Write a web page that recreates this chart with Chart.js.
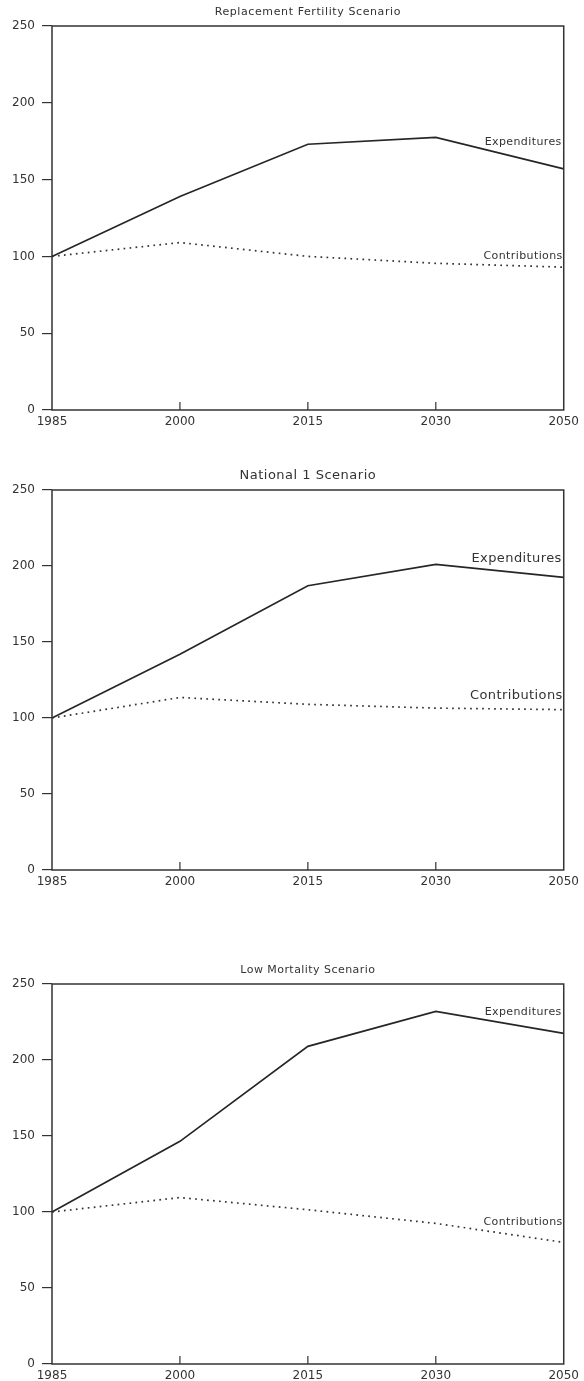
<!DOCTYPE html>
<html>
<head>
<meta charset="utf-8">
<script src="https://cdn.jsdelivr.net/npm/chart.js@4.4.0/dist/chart.umd.min.js"></script>
<style>
    body { margin: 0; background: #fff; }
    .panel { position: absolute; left: 0; width: 584px; }
    canvas { display: block; }
</style>
</head>
<body>
<div class="panel" style="top:0px"><canvas id="chart1" width="584" height="440"></canvas></div>
<div class="panel" style="top:460px"><canvas id="chart2" width="584" height="440"></canvas></div>
<div class="panel" style="top:950px"><canvas id="chart3" width="584" height="431"></canvas></div>
<script>
// values (index, 1985 = 100)
const years = ['1985', '2000', '2015', '2030', '2050'];
const yTicks = [0, 50, 100, 150, 200, 250];

const replacementExpenditures = [100, 139, 173, 177.5, 157];
const replacementContributions = [100, 109, 100, 95.5, 93];

const national1Expenditures = [100, 142, 187, 201, 192.5];
const national1Contributions = [100, 113.5, 109, 106.5, 105.5];

const lowMortalityExpenditures = [100, 146.5, 209, 232, 217.5];
const lowMortalityContributions = [100, 109.5, 101.5, 92.5, 80];

const ink = '#333';
const fontFamily = '"DejaVu Sans", sans-serif';

// draws the box, inward x ticks, title and series labels
const decorPlugin = {
    id: 'decor',
    afterDraw(chart, args, opts) {
        const ctx = chart.ctx;
        const area = chart.chartArea;
        const xScale = chart.scales.x;
        const yScale = chart.scales.y;

        ctx.save();
        ctx.strokeStyle = ink;
        ctx.lineWidth = 1.5;
        ctx.strokeRect(area.left, area.top, area.right - area.left, area.bottom - area.top);

        // small ticks pointing up from the bottom axis
        ctx.lineWidth = 1.2;
        for (let i = 1; i < years.length - 1; i++) {
            const x = xScale.getPixelForTick(i);
            ctx.beginPath();
            ctx.moveTo(x, area.bottom);
            ctx.lineTo(x, area.bottom - 8);
            ctx.stroke();
        }

        ctx.fillStyle = ink;
        ctx.textBaseline = 'middle';

        ctx.font = opts.titleSize + 'px ' + fontFamily;
        ctx.letterSpacing = opts.titleSpacing + 'px';
        ctx.textAlign = 'center';
        ctx.fillText(opts.title, (area.left + area.right) / 2, area.top - 14);

        ctx.font = opts.labelSize + 'px ' + fontFamily;
        ctx.letterSpacing = opts.labelSpacing + 'px';
        ctx.textAlign = 'right';
        ctx.fillText('Expenditures', area.right - 2, yScale.getPixelForValue(opts.expLabelAt));
        ctx.fillText('Contributions', area.right - 1, yScale.getPixelForValue(opts.conLabelAt));
        ctx.restore();
    }
};

function makePanel(canvasId, expenditures, contributions, panel) {
    return new Chart(document.getElementById(canvasId).getContext('2d'), {
        type: 'line',
        data: {
            labels: years,
            datasets: [{
                label: 'Expenditures',
                data: expenditures,
                borderColor: '#262626',
                borderWidth: 1.7,
                pointRadius: 0,
                tension: 0,
            }, {
                label: 'Contributions',
                data: contributions,
                borderColor: '#333',
                borderWidth: 1.7,
                borderDash: [1.7, 4.3],
                pointRadius: 0,
                tension: 0,
            }],
        },
        options: {
            responsive: false,
            animation: false,
            layout: { padding: { top: panel.padTop, right: 20, left: 0, bottom: 0 } },
            plugins: {
                legend: { display: false },
                tooltip: { enabled: false },
                decor: panel,
            },
            scales: {
                x: {
                    type: 'category',
                    offset: false,
                    grid: { display: false, drawTicks: false },
                    border: { display: false },
                    ticks: {
                        color: ink,
                        padding: 5,
                        maxRotation: 0,
                        autoSkip: false,
                        font: { family: fontFamily, size: 12 },
                    },
                    afterFit: function (scale) { scale.height = panel.axisHeight; },
                },
                y: {
                    min: 0,
                    max: 250,
                    afterBuildTicks: function (scale) {
                        scale.ticks = yTicks.map(v => ({ value: v }));
                    },
                    grid: {
                        drawOnChartArea: false,
                        drawTicks: true,
                        tickLength: 10,
                        color: ink,
                        lineWidth: 1.2,
                    },
                    border: { display: false },
                    ticks: {
                        color: ink,
                        padding: 7,
                        font: { family: fontFamily, size: 12 },
                    },
                    afterFit: function (scale) { scale.width = 52; },
                },
            },
        },
        plugins: [decorPlugin],
    });
}

document.addEventListener('DOMContentLoaded', function () {
    makePanel('chart1', replacementExpenditures, replacementContributions, {
        title: 'Replacement Fertility Scenario', titleSize: 11, titleSpacing: 0.6,
        labelSize: 11, labelSpacing: 0.4,
        expLabelAt: 174.5, conLabelAt: 100, padTop: 26, axisHeight: 30,
    });
    makePanel('chart2', national1Expenditures, national1Contributions, {
        title: 'National 1 Scenario', titleSize: 13, titleSpacing: 0.5,
        labelSize: 13, labelSpacing: 0.4,
        expLabelAt: 205, conLabelAt: 114.5, padTop: 30, axisHeight: 30,
    });
    makePanel('chart3', lowMortalityExpenditures, lowMortalityContributions, {
        title: 'Low Mortality Scenario', titleSize: 11, titleSpacing: 0.45,
        labelSize: 11, labelSpacing: 0.4,
        expLabelAt: 231.5, conLabelAt: 93, padTop: 34, axisHeight: 17,
    });
});
</script>
</body>
</html>
